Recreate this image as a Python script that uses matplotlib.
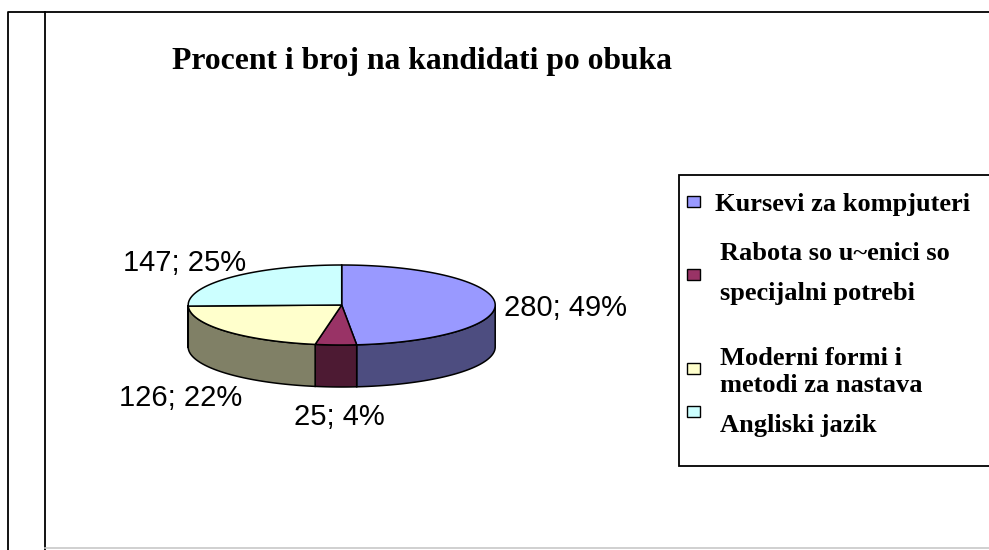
import numpy as np
import matplotlib.pyplot as plt
from matplotlib.patches import Polygon, Rectangle

# data
categories = ["Kursevi za kompjuteri",
              "Rabota so u~enici so\nspecijalni potrebi",
              "Moderni formi i\nmetodi za nastava",
              "Angliski jazik"]
counts = [280, 25, 126, 147]
percents = [49, 4, 22, 25]
top_colors = ["#9999FF", "#993366", "#FFFFCC", "#CCFFFF"]
side_colors = ["#4D4D80", "#4D1A33", "#808066", "#668080"]

W, H = 989, 550
fig = plt.figure(figsize=(W / 100, H / 100), dpi=100)
ax = fig.add_axes([0, 0, 1, 1])
ax.set_xlim(0, W)
ax.set_ylim(H, 0)
ax.axis('off')

# frame
ax.plot([8, 8, W], [H, 12, 12], color='black', lw=1.3, solid_capstyle='butt')
ax.plot([45, 45], [12, H], color='black', lw=1.3)
ax.plot([45, W], [548, 548], color='#C8C8C8', lw=1.2)

# 3d pie geometry
cx, cy = 341.7, 305
a, b = 153.5, 40
depth = 42

def pt(th):
    # angle clockwise from 12 o'clock
    return cx + a * np.sin(th), cy - b * np.cos(th)

fr = np.array(counts) / sum(counts)
edges = np.concatenate([[0], np.cumsum(fr)]) * 2 * np.pi

# side walls (front half only)
for i in range(len(counts)):
    t1 = max(edges[i], np.pi / 2)
    t2 = min(edges[i + 1], 3 * np.pi / 2)
    if t2 <= t1:
        continue
    th = np.linspace(t1, t2, 80)
    xs, ys = pt(th)
    poly = np.column_stack([np.concatenate([xs, xs[::-1]]),
                            np.concatenate([ys, ys[::-1] + depth])])
    ax.add_patch(Polygon(poly, closed=True, fc=side_colors[i], ec='black', lw=1.1))

# top faces
for i in range(len(counts)):
    th = np.linspace(edges[i], edges[i + 1], 150)
    xs, ys = pt(th)
    poly = np.column_stack([np.concatenate([[cx], xs]), np.concatenate([[cy], ys])])
    ax.add_patch(Polygon(poly, closed=True, fc=top_colors[i], ec='black', lw=1.1))

# data labels
label_pos = [(566, 308), (339, 417), (181, 398), (185, 263)]
for i in range(len(counts)):
    ax.text(label_pos[i][0], label_pos[i][1], f"{counts[i]}; {percents[i]}%",
            fontsize=21, family='Liberation Sans', ha='center', va='center')

# title
ax.text(422, 69, "Procent i broj na kandidati po obuka", fontsize=22.8,
        family='Liberation Serif', weight='bold', ha='center', va='baseline')

# legend
ax.add_patch(Rectangle((679, 175), 330, 291, fc='white', ec='black', lw=1.3))
marker_y = [202, 275, 369, 412]
text_base = [[211], [260, 300], [365, 392], [432]]
text_x = [715, 720, 720, 720]
for i, name in enumerate(categories):
    ax.add_patch(Rectangle((687, marker_y[i] - 6), 13, 11,
                           fc=top_colors[i], ec='black', lw=1.0))
    for line, yb in zip(name.split("\n"), text_base[i]):
        ax.text(text_x[i], yb, line, fontsize=19, family='Liberation Serif',
                weight='bold', ha='left', va='baseline')

fig.savefig("out.png", dpi=100)
